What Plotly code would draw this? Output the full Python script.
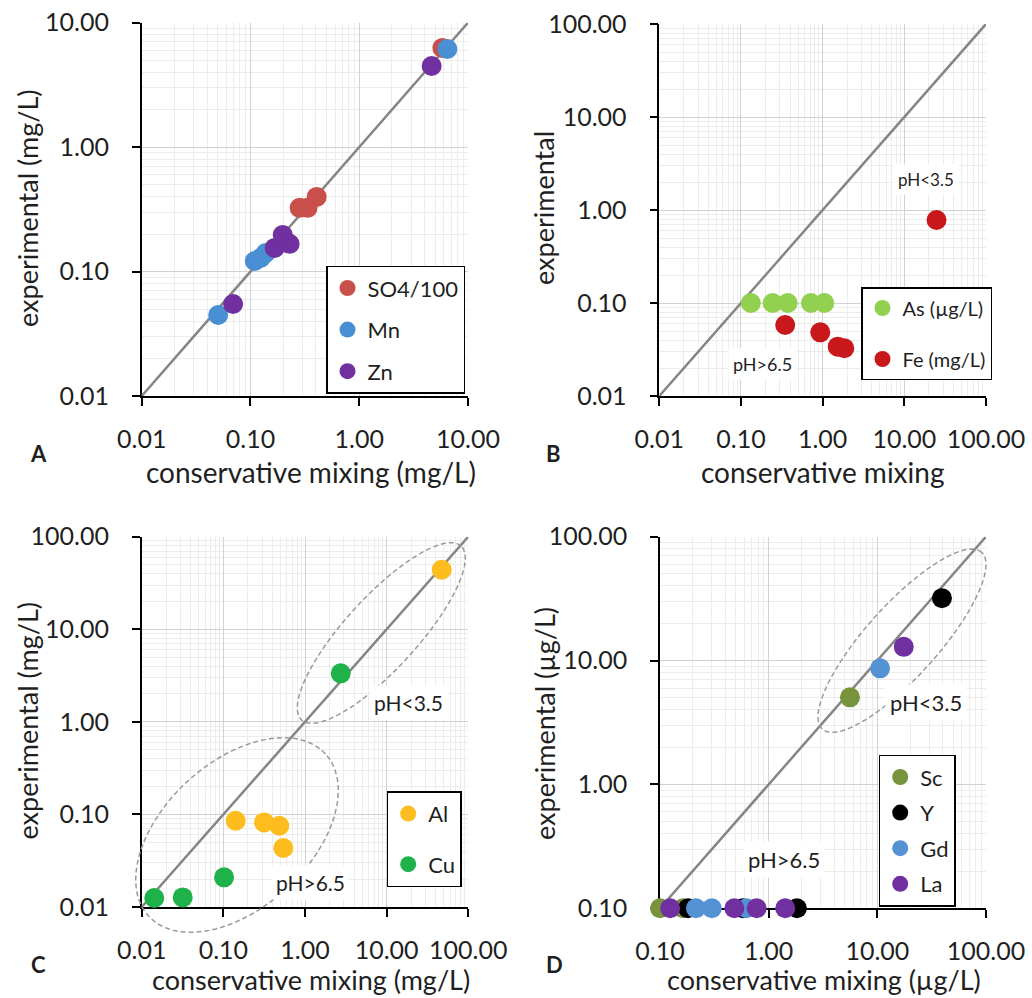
import numpy as np
import plotly.graph_objects as go

W, H = 1032, 998
FONT = "Lato"
INK = "#1f1f1f"

# ---- Panel A: SO4/100, Mn, Zn (mg/L) ----
so4_mix = [0.283, 0.335, 0.406, 5.81]
so4_exp = [0.325, 0.325, 0.398, 6.27]
mn_mix = [0.0505, 0.1095, 0.124, 0.138, 6.46]
mn_exp = [0.0448, 0.1217, 0.1286, 0.141, 6.15]
zn_mix = [0.0692, 0.167, 0.198, 0.229, 4.63]
zn_exp = [0.0549, 0.155, 0.197, 0.167, 4.49]

# ---- Panel B: As (ug/L), Fe (mg/L) ----
as_mix = [0.132, 0.244, 0.373, 0.719, 1.047]
as_exp = [0.10, 0.10, 0.10, 0.10, 0.10]
fe_mix = [0.348, 0.935, 1.53, 1.84, 24.8]
fe_exp = [0.058, 0.0484, 0.0339, 0.0326, 0.78]

# ---- Panel C: Al, Cu (mg/L) ----
al_mix = [0.1416, 0.315, 0.484, 0.542, 47.2]
al_exp = [0.0855, 0.082, 0.0755, 0.0434, 43.9]
cu_mix = [0.01426, 0.028, 0.0318, 0.102, 2.74]
cu_exp = [0.0125, 0.0099, 0.0127, 0.0209, 3.34]

# ---- Panel D: Sc, Y, Gd, La (ug/L) ----
sc_mix = [0.10, 0.163, 5.6]
sc_exp = [0.10, 0.10, 5.05]
y_mix = [0.181, 0.577, 1.82, 39.3]
y_exp = [0.10, 0.10, 0.10, 31.9]
gd_mix = [0.214, 0.30, 0.625, 10.6]
gd_exp = [0.10, 0.10, 0.10, 8.65]
la_mix = [0.124, 0.483, 0.776, 1.42, 17.5]
la_exp = [0.10, 0.10, 0.10, 0.10, 12.9]

# 1:1 reference lines
one_to_one_A = [0.01, 10]
one_to_one_BC = [0.01, 100]
one_to_one_D = [0.1, 100]

# tick values / labels
ticks_A = [0.01, 0.1, 1, 10]
labels_A = ["0.01", "0.10", "1.00", "10.00"]
ticks_BC = [0.01, 0.1, 1, 10, 100]
labels_BC = ["0.01", "0.10", "1.00", "10.00", "100.00"]
ticks_D = [0.1, 1, 10, 100]
labels_D = ["0.10", "1.00", "10.00", "100.00"]

# plot-area boxes in pixels: left, right, top, bottom
BOX = {
    1: (141.7, 468.0, 22.7, 396.0),
    2: (659.3, 986.0, 24.0, 396.0),
    3: (141.7, 468.3, 536.7, 907.0),
    4: (660.0, 986.0, 536.7, 908.3),
}
LOGRANGE = {1: [-2, 1], 2: [-2, 2], 3: [-2, 2], 4: [-1, 2]}
TICKS = {1: (ticks_A, labels_A), 2: (ticks_BC, labels_BC),
         3: (ticks_BC, labels_BC), 4: (ticks_D, labels_D)}

MS = 20
fig = go.Figure()


def px_to_paper(px, py):
    return px / W, 1 - py / H


def add_series(i, xs, ys, name, color, legend):
    sfx = "" if i == 1 else str(i)
    fig.add_trace(go.Scatter(
        x=xs, y=ys, mode="markers", name=name,
        marker=dict(size=MS, color=color, line=dict(width=0)),
        xaxis="x" + sfx, yaxis="y" + sfx, cliponaxis=False,
        legend=legend, legendgroup=name,
    ))


def add_diag(i, ends):
    sfx = "" if i == 1 else str(i)
    fig.add_trace(go.Scatter(
        x=ends, y=ends, mode="lines", showlegend=False,
        line=dict(color="#858585", width=2.5),
        xaxis="x" + sfx, yaxis="y" + sfx, hoverinfo="skip",
    ))


add_diag(1, one_to_one_A)
add_series(1, so4_mix, so4_exp, "SO4/100", "#c9504a", "legend")
add_series(1, mn_mix, mn_exp, "Mn", "#4a8fd4", "legend")
add_series(1, zn_mix, zn_exp, "Zn", "#7030a0", "legend")

add_diag(2, one_to_one_BC)
add_series(2, as_mix, as_exp, "As (µg/L)", "#92d050", "legend2")
add_series(2, fe_mix, fe_exp, "Fe (mg/L)", "#c8181c", "legend2")

add_diag(3, one_to_one_BC)
add_series(3, al_mix, al_exp, "Al", "#fdbd1e", "legend3")
add_series(3, cu_mix, cu_exp, "Cu", "#1fb24a", "legend3")

add_diag(4, one_to_one_D)
add_series(4, sc_mix, sc_exp, "Sc", "#77933c", "legend4")
add_series(4, y_mix, y_exp, "Y", "#000000", "legend4")
add_series(4, gd_mix, gd_exp, "Gd", "#5592d4", "legend4")
add_series(4, la_mix, la_exp, "La", "#7030a0", "legend4")

layout = dict(
    width=W, height=H, margin=dict(l=0, r=0, t=0, b=0, autoexpand=False),
    paper_bgcolor="white", plot_bgcolor="white",
    font=dict(family=FONT, color=INK),
    showlegend=True, hovermode=False,
)

for i, (l, r, t, b) in BOX.items():
    sfx = "" if i == 1 else str(i)
    tv, tt = TICKS[i]
    common = dict(
        type="log", range=LOGRANGE[i], tickmode="array", tickvals=tv, ticktext=tt,
        showline=True, linecolor="black", linewidth=1.5,
        ticks="outside", ticklen=8, tickwidth=1.5, tickcolor="black",
        showgrid=True, gridcolor="#d2d2d2", gridwidth=1, zeroline=False,
        minor=dict(dtick="D1", showgrid=True, gridcolor="#ececec", gridwidth=1, ticks=""),
        tickfont=dict(family=FONT, size=25, color=INK),
        layer="below traces", fixedrange=True, automargin=False,
    )
    layout["xaxis" + sfx] = dict(common, domain=[l / W, r / W], anchor="y" + sfx,
                                 ticklabelstandoff=12)
    layout["yaxis" + sfx] = dict(common, domain=[1 - b / H, 1 - t / H], anchor="x" + sfx,
                                 ticklabelstandoff=18)

# legends: (left px, top px, font size, gap between entries)
LEG = {"legend": (326, 265.7, 22, 10), "legend2": (861, 287, 20, 22),
       "legend3": (386.7, 791.3, 22, 19), "legend4": (878.7, 754.7, 22, 4)}
for key, (lx, ly, fs, gap) in LEG.items():
    x, y = px_to_paper(lx, ly)
    layout[key] = dict(x=x, y=y, xanchor="left", yanchor="top", bgcolor="white",
                       bordercolor="black", borderwidth=1.5, tracegroupgap=gap,
                       font=dict(family=FONT, size=fs, color=INK), itemsizing="trace")

annotations = []


def text_at(px, py, s, size, angle=0, bold=False, bg=None):
    x, y = px_to_paper(px, py)
    a = dict(x=x, y=y, xref="paper", yref="paper", text=("<b>%s</b>" % s) if bold else s,
             showarrow=False, xanchor="center", yanchor="middle", textangle=angle,
             font=dict(family=FONT, size=size, color=INK))
    if bg:
        a.update(bgcolor=bg, borderpad=4)
    annotations.append(a)


TITLE_FS = 28
# axis titles
text_at(310.8, 472, "conservative mixing (mg/L)", TITLE_FS)
text_at(822.7, 472, "conservative mixing", TITLE_FS)
text_at(310.8, 979, "conservative mixing (mg/L)", 27)
text_at(824.3, 979, "conservative mixing (µg/L)", 27)
text_at(27, 209, "experimental (mg/L)", 27, angle=-90)
text_at(543, 208, "experimental", 27, angle=-90)
text_at(27, 721.5, "experimental (mg/L)", 27, angle=-90)
text_at(544, 724, "experimental (µg/L)", 27, angle=-90)

# panel letters
text_at(38, 453, "A", 22, bold=True)
text_at(553, 453, "B", 22, bold=True)
text_at(38, 964, "C", 22, bold=True)
text_at(554, 964, "D", 22, bold=True)

# pH regime labels
text_at(926, 180, "pH&lt;3.5", 17, bg="white")
text_at(762.7, 364, "pH&gt;6.5", 18, bg="white")
text_at(408.3, 702.3, "pH&lt;3.5", 21, bg="white")
text_at(310.7, 882.3, "pH&gt;6.5", 21, bg="white")
text_at(926.3, 702.3, "pH&lt;3.5", 22, bg="white")
text_at(784, 859, "pH&gt;6.5", 22, bg="white")

layout["annotations"] = annotations

# dashed ellipses grouping the pH regimes: (panel, centre px, semi-axes px, tilt deg)
ELLIPSES = [
    (3, (381.3, 633.0), (118, 36), 47.5),
    (3, (237.0, 835.0), (120, 73), 42.5),
    (4, (902.0, 640.7), (119, 36), 48.0),
]
shapes = []
t = np.linspace(0, 2 * np.pi, 97)
for i, (cx, cy), (a, b), ang in ELLIPSES:
    l, r, tp, bt = BOX[i]
    th = np.radians(ang)
    ex = cx + a * np.cos(t) * np.cos(th) - b * np.sin(t) * np.sin(th)
    ey = cy - (a * np.cos(t) * np.sin(th) + b * np.sin(t) * np.cos(th))
    fx = (ex - l) / (r - l)
    fy = (bt - ey) / (bt - tp)
    path = "M " + " L ".join("%.4f,%.4f" % (u, v) for u, v in zip(fx, fy)) + " Z"
    sfx = "" if i == 1 else str(i)
    shapes.append(dict(type="path", path=path, xref="x%s domain" % sfx,
                       yref="y%s domain" % sfx,
                       line=dict(color="#9a9a9a", width=1.5, dash="5px,3px")))
layout["shapes"] = shapes

fig.update_layout(**layout)
fig.write_html("out.html")
